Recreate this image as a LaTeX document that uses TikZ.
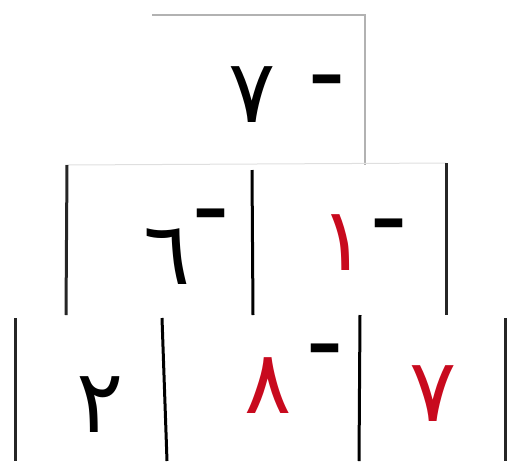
\documentclass[tikz,border=0pt]{standalone}
\usepackage{fontspec}
\TeXXeTstate=1
\newfontfamily\arabicfont[Script=Arabic]{DejaVu Sans}
\definecolor{numred}{RGB}{200,10,30}

\begin{document}
\begin{tikzpicture}[x=1pt, y=-1pt,
        digit/.style={inner sep=0pt, text=black, font=\arabicfont\fontsize{88}{88}\selectfont},
        reddigit/.style={digit, text=numred},
        minus/.style={inner sep=0pt, text=black, font=\arabicfont\bfseries\fontsize{70}{70}\selectfont},
        thinline/.style={draw=gray!60, line width=1.5pt},
        faintline/.style={draw=gray!25, line width=1pt},
        wall/.style={draw=black!85, line width=3pt}
    ]
    \useasboundingbox (0,0) rectangle (509,461);

    % Top brick
    \node[digit] (top) at (252,95) {\beginR ٧\endR};
    \node[minus] (topm) at (327,87) {–};
    \coordinate (tl) at (152,15);
    \coordinate (tr) at (365,15);
    \coordinate (trb) at (365,165);
    \draw[thinline] (tl) -- (tr) -- (trb);

    % Middle row
    \node[digit] (midl) at (167,257) {\beginR ٦\endR};
    \node[minus] (midlm) at (211,221) {–};
    \node[reddigit] (midr) at (343,243) {\beginR ١\endR};
    \node[minus] (midrm) at (389,231) {–};
    \coordinate (m1) at (67,165);
    \coordinate (m1b) at (66,315);
    \coordinate (m2) at (252,170);
    \coordinate (m2b) at (253,315);
    \coordinate (m3) at (446,163);
    \coordinate (m3b) at (446,315);
    \draw[faintline] (m1) -- (m3);
    \draw[wall] (m1) -- (m1b);
    \draw[wall, black] (m2) -- (m2b);
    \draw[wall] (m3) -- (m3b);

    % Bottom row
    \node[digit] (botl) at (100,405) {\beginR ٢\endR};
    \node[reddigit] (botm) at (268,386) {\beginR ٨\endR};
    \node[minus] (botmm) at (325,356) {–};
    \node[reddigit] (botr) at (433,394) {\beginR ٧\endR};
    \coordinate (b1) at (15,318);
    \coordinate (b1b) at (15,461);
    \coordinate (b2) at (162,318);
    \coordinate (b2b) at (167,461);
    \coordinate (b3) at (360,315);
    \coordinate (b3b) at (359,461);
    \coordinate (b4) at (505,318);
    \coordinate (b4b) at (505,461);
    \draw[wall] (b1) -- (b1b);
    \draw[wall, black] (b2) -- (b2b);
    \draw[wall, black] (b3) -- (b3b);
    \draw[wall] (b4) -- (b4b);

\end{tikzpicture}
\end{document}
